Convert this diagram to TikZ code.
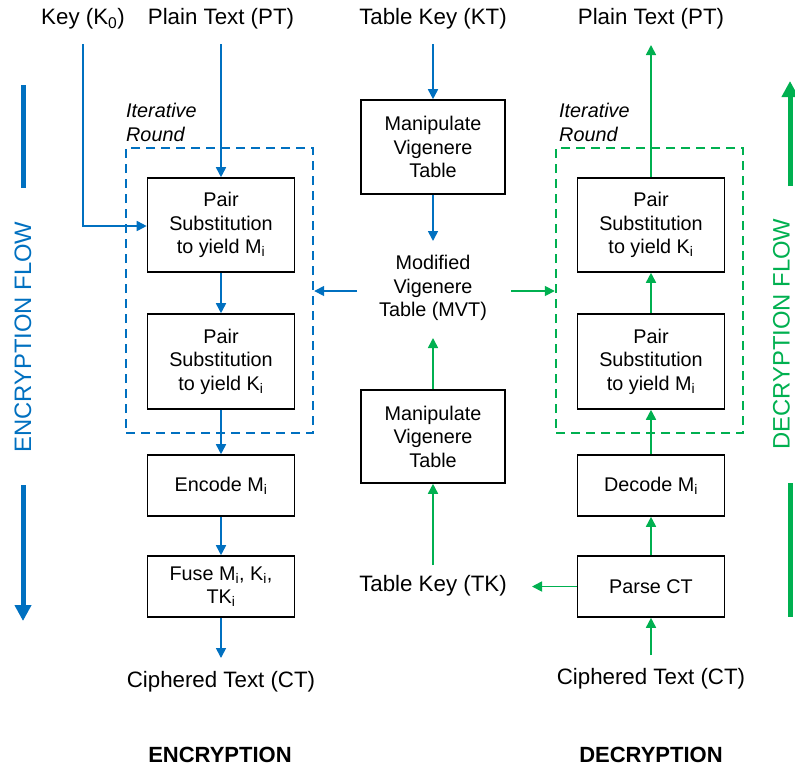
\documentclass[tikz,border=0pt]{standalone}
\usepackage{fontspec}
\setmainfont{Liberation Sans}
\usetikzlibrary{arrows.meta}
\definecolor{encblue}{RGB}{0,112,192}
\definecolor{decgreen}{RGB}{0,176,80}
\newcommand{\lblfont}{\fontsize{22.3}{24}\selectfont}
\newcommand{\boxfont}{\fontsize{19.8}{23.5}\selectfont}
\newcommand{\sub}[1]{\textsubscript{#1}}
\begin{document}
\begin{tikzpicture}[x=1pt,y=-1pt,
  procbox/.style={draw=black, line width=1.6pt, minimum width=147pt, align=center, font=\boxfont, inner sep=2pt},
  lbl/.style={font=\lblfont, inner sep=0pt},
  roundlbl/.style={font=\fontsize{19.8}{24}\selectfont\itshape, align=left, anchor=west, inner sep=0pt},
  encarr/.style={draw=encblue, line width=1.7pt, -{Triangle[length=10pt,width=10pt]}},
  decarr/.style={draw=decgreen, line width=1.7pt, -{Triangle[length=10pt,width=10pt]}},
  encround/.style={draw=encblue, line width=2.4pt, dash pattern=on 9pt off 6pt, minimum width=187pt, minimum height=285pt, inner sep=0pt},
  decround/.style={draw=decgreen, line width=2.4pt, dash pattern=on 9pt off 6pt, minimum width=187pt, minimum height=285pt, inner sep=0pt},
  flowtxt/.style={font=\fontsize{23.8}{26}\selectfont, rotate=90, inner sep=0pt},
  heading/.style={font=\fontsize{22}{24}\selectfont\bfseries, inner sep=0pt}
]
\useasboundingbox[fill=white] (0,0) rectangle (795,769);

% ---------- Encryption ----------
\node[lbl] (key) at (83,19) {Key (K\sub{0})};
\node[lbl] (ptL) at (221,19) {Plain Text (PT)};
\node[roundlbl] (itL) at (126,122) {Iterative\\Round};
\node[encround] (rndL) at (219.5,290.5) {};
\node[procbox, minimum height=94pt] (b1) at (221,225) {Pair\\Substitution\\to yield M\sub{i}};
\node[procbox, minimum height=95pt] (b2) at (221,361.5) {Pair\\Substitution\\to yield K\sub{i}};
\node[procbox, minimum height=61pt] (enc) at (221,485.5) {Encode M\sub{i}};
\node[procbox, minimum height=61pt] (fuse) at (221,586.5) {Fuse M\sub{i}, K\sub{i},\\TK\sub{i}};
\node[lbl] (ctL) at (221,682) {Ciphered Text (CT)};
\node[heading] (encH) at (220,755) {ENCRYPTION};

\coordinate (keytop) at (83,44);
\coordinate (keybend) at (83,226);
\coordinate (pttop) at (221,44);
\coordinate (ctLend) at (221,658);
\draw[encarr] (keytop) -- (keybend) -- (keybend -| b1.west);
\draw[encarr] (pttop) -- (b1.north);
\draw[encarr] (b1) -- (b2);
\draw[encarr] (b2) -- (enc);
\draw[encarr] (enc) -- (fuse);
\draw[encarr] (fuse) -- (ctLend);

% encryption flow
\coordinate (ef1) at (23,85);
\coordinate (ef2) at (23,188);
\coordinate (ef3) at (23,485);
\coordinate (ef4) at (23,621);
\draw[encblue, line width=5pt] (ef1) -- (ef2);
\node[flowtxt, text=encblue] (encflow) at (23,337) {ENCRYPTION FLOW};
\draw[encblue, line width=5pt, -{Triangle[length=16pt,width=16pt]}] (ef3) -- (ef4);

% ---------- Middle ----------
\node[lbl] (kt) at (433,19) {Table Key (KT)};
\node[procbox, minimum width=144pt, minimum height=94pt] (m1) at (433,147) {Manipulate\\Vigenere\\Table};
\node[font=\boxfont, align=center, inner sep=2pt] (mvt) at (433,288) {Modified\\Vigenere\\Table (MVT)};
\node[procbox, minimum width=144pt, minimum height=93pt] (m2) at (433,436.5) {Manipulate\\Vigenere\\Table};
\node[lbl] (tk) at (433,586) {Table Key (TK)};

\coordinate (kttop) at (433,44);
\coordinate (mvttop) at (433,241);
\coordinate (mvtbot) at (433,338);
\coordinate (tktop) at (433,565);
\coordinate (mvtl) at (357,291);
\coordinate (mvtr) at (511,291);
\draw[encarr] (kttop) -- (m1.north);
\draw[encarr] (m1) -- (mvttop);
\draw[decarr] (m2) -- (mvtbot);
\draw[decarr] (tktop) -- (m2.south);
\draw[encarr] (mvtl) -- (mvtl -| rndL.east);

% ---------- Decryption ----------
\node[lbl] (ptR) at (651,19) {Plain Text (PT)};
\node[roundlbl] (itR) at (559,122) {Iterative\\Round};
\node[decround] (rndR) at (649.5,290.5) {};
\node[procbox, minimum height=94pt] (d1) at (651,225) {Pair\\Substitution\\to yield K\sub{i}};
\node[procbox, minimum height=95pt] (d2) at (651,361.5) {Pair\\Substitution\\to yield M\sub{i}};
\node[procbox, minimum height=61pt] (dec) at (651,485.5) {Decode M\sub{i}};
\node[procbox, minimum height=61pt] (parse) at (651,586.5) {Parse CT};
\node[lbl] (ctR) at (651,679) {Ciphered Text (CT)};
\node[heading] (decH) at (651,755) {DECRYPTION};

\coordinate (ptRend) at (651,45);
\coordinate (ctRtop) at (651,655);
\coordinate (tkend) at (532,586.5);
\draw[decarr] (mvtr) -- (mvtr -| rndR.west);
\draw[decarr] (d1.north) -- (ptRend);
\draw[decarr] (d2) -- (d1);
\draw[decarr] (dec) -- (d2);
\draw[decarr] (parse) -- (dec);
\draw[decarr] (parse.west) -- (tkend);
\draw[decarr] (ctRtop) -- (parse.south);

% decryption flow
\coordinate (df1) at (790,186);
\coordinate (df2) at (790,81);
\coordinate (df3) at (790,483);
\coordinate (df4) at (790,617);
\draw[decgreen, line width=5pt, -{Triangle[length=16pt,width=16pt]}] (df1) -- (df2);
\node[flowtxt, text=decgreen] (decflow) at (781.5,334) {DECRYPTION FLOW};
\draw[decgreen, line width=5pt] (df3) -- (df4);
\end{tikzpicture}
\end{document}
